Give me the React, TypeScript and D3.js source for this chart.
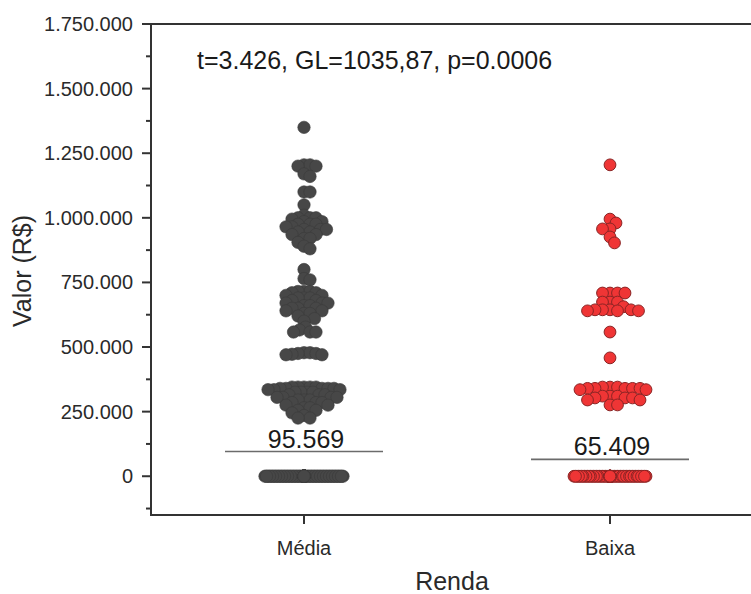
import React from "react";
import * as d3 from "d3";

const categories = ["Média", "Baixa"];
const means = [95569, 65409];
const meanLabels = ["95.569", "65.409"];
const annotation = "t=3.426, GL=1035,87, p=0.0006";
const xTitle = "Renda";
const yTitle = "Valor (R$)";
const yTicks = [0, 250000, 500000, 750000, 1000000, 1250000, 1500000, 1750000];
const yMinorTicks = [-125000, 125000, 375000, 625000, 875000, 1125000, 1375000, 1625000];

const mediaValues = [
  1350000,
  1205000, 1205000, 1200000, 1200000,
  1170000, 1160000,
  1100000, 1100000,
  1050000,
  1010000, 1000000, 1000000, 1000000, 995000,
  985000, 985000, 975000, 975000, 975000,
  965000, 965000, 955000, 955000, 955000,
  945000, 945000, 935000, 935000, 920000, 920000,
  905000, 890000, 880000,
  800000, 765000, 760000,
  715000, 715000, 715000, 710000, 710000,
  700000, 700000, 690000, 690000, 690000,
  680000, 680000, 670000, 670000, 670000,
  660000, 660000, 650000, 650000, 650000,
  640000, 640000, 630000, 630000, 620000,
  610000, 600000,
  577000, 566000, 558000, 558000, 558000,
  478000, 478000, 475000, 475000, 472000, 470000, 470000,
  345000, 345000, 345000, 345000, 345000,
  340000, 340000, 340000, 340000, 340000,
  335000, 335000, 335000,
  325000, 325000, 325000, 325000,
  315000, 315000, 315000,
  305000, 305000, 305000, 305000,
  295000, 295000, 295000, 285000, 285000, 285000,
  275000, 275000, 265000, 265000,
  255000, 255000, 245000, 235000, 225000, 225000,
];
const mediaZeroCount = 150;

const baixaValues = [
  1205000,
  995000, 980000, 957000, 957000, 926000, 903000,
  709000, 709000, 709000, 709000,
  674000, 674000, 674000, 656000,
  644000, 644000, 644000, 644000, 640000, 640000, 640000,
  558000, 458000,
  345000, 345000, 345000, 340000, 340000, 340000, 340000, 340000, 335000, 335000,
  310000, 310000, 310000, 303000, 303000, 303000, 295000, 295000,
  276000, 276000,
];
const baixaZeroCount = 70;

const W = 751;
const H = 594;
const margin = { left: 151, top: 24, bottom: 515, right: 763 };
const R = 6.2;

function swarm(values: number[], yf: (v: number) => number, cx: number, halfWidth: number, minDist: number, step = 1.5) {
  const order = values.map((_, i) => i).sort((a, b) => values[b] - values[a]);
  const placed: { x: number; y: number }[] = [];
  const xs: number[] = new Array(values.length);
  const cands: number[] = [0];
  for (let k = step; k <= halfWidth; k += step) cands.push(k, -k);
  for (const i of order) {
    const py = yf(values[i]);
    let best = 0;
    let bestD = -1;
    for (const c of cands) {
      const px = cx + c;
      let md = Infinity;
      for (const p of placed) {
        const d = Math.hypot(p.x - px, p.y - py);
        if (d < md) md = d;
      }
      if (md >= minDist) {
        best = c;
        bestD = md;
        break;
      }
      if (md > bestD) {
        bestD = md;
        best = c;
      }
    }
    xs[i] = cx + best;
    placed.push({ x: cx + best, y: py });
  }
  return xs;
}

const locale = d3.formatLocale({ decimal: ",", thousands: ".", grouping: [3], currency: ["R$", ""] });
const fmt = locale.format(",.0f");

export default function App() {
  const y = d3.scaleLinear().domain([-150000, 1750000]).range([margin.bottom, margin.top]);
  const x = d3.scalePoint<string>().domain(categories).range([margin.left, margin.right]).padding(0.5);

  const mediaAll = mediaValues.concat(new Array(mediaZeroCount).fill(0));
  const baixaAll = baixaValues.concat(new Array(baixaZeroCount).fill(0));
  const mx = swarm(mediaAll, y, x("Média")!, 40, 6);
  const bx = swarm(baixaAll, y, x("Baixa")!, 37, 7);

  const font = "'Liberation Sans', Arial, sans-serif";

  return (
    <svg width={W} height={H} style={{ position: "absolute", left: 0, top: 0, background: "#fff" }} fontFamily={font}>
      <rect x={0} y={0} width={W} height={H} fill="#fff" />
      {categories.map((c, i) => (
        <g key={c}>
          <line x1={x(c)! - 79} x2={x(c)! + 79} y1={y(means[i])} y2={y(means[i])} stroke="#6b6b6b" strokeWidth={1.6} />
          <text x={x(c)! + 2} y={y(means[i]) - 4} textAnchor="middle" fontSize={25} fill="#1a1a1a">{meanLabels[i]}</text>
        </g>
      ))}
      {mediaAll.map((v, i) => (
        <circle key={"m" + i} cx={mx[i]} cy={y(v)} r={R} fill="#474747" stroke="#3a3a3a" strokeWidth={0.6} />
      ))}
      {baixaAll.map((v, i) => (
        <circle key={"b" + i} cx={bx[i]} cy={y(v)} r={R - 0.3} fill="#ef3535" stroke="#8a2424" strokeWidth={1} />
      ))}
      <line x1={margin.left} x2={margin.right} y1={margin.top} y2={margin.top} stroke="#333" strokeWidth={2} />
      <line x1={margin.left} x2={margin.right} y1={margin.bottom} y2={margin.bottom} stroke="#333" strokeWidth={2} />
      <line x1={margin.left} x2={margin.left} y1={margin.top - 1} y2={margin.bottom + 1} stroke="#333" strokeWidth={2} />
      {yTicks.map((t) => (
        <g key={t}>
          <line x1={margin.left - 9} x2={margin.left} y1={y(t)} y2={y(t)} stroke="#333" strokeWidth={2} />
          <text x={133} y={y(t) + 7} textAnchor="end" fontSize={20} fill="#2a2a2a">{fmt(t)}</text>
        </g>
      ))}
      {yMinorTicks.map((t) => (
        <line key={t} x1={margin.left - 5} x2={margin.left} y1={y(t)} y2={y(t)} stroke="#333" strokeWidth={2} />
      ))}
      {categories.map((c) => (
        <g key={c}>
          <line x1={x(c)!} x2={x(c)!} y1={margin.bottom} y2={margin.bottom + 9} stroke="#333" strokeWidth={2} />
          <text x={x(c)!} y={555} textAnchor="middle" fontSize={20} fill="#2a2a2a">{c}</text>
        </g>
      ))}
      <text x={452} y={590} textAnchor="middle" fontSize={25} fill="#2a2a2a">{xTitle}</text>
      <text transform={`translate(31,271) rotate(-90)`} textAnchor="middle" fontSize={25} fill="#2a2a2a">{yTitle}</text>
      <text x={197} y={69} fontSize={25} fill="#1a1a1a">{annotation}</text>
    </svg>
  );
}
